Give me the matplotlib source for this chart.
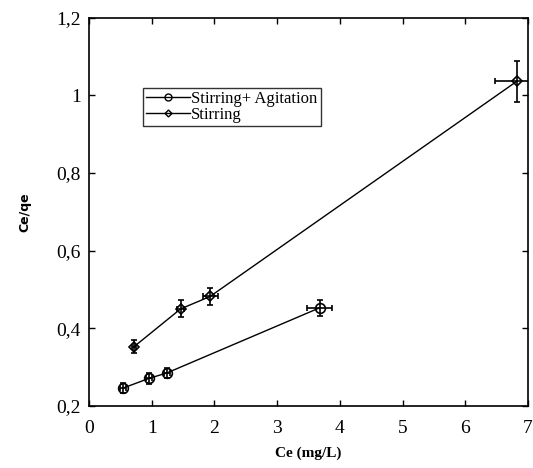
import matplotlib
matplotlib.use("Agg")
import matplotlib.pyplot as plt
from matplotlib.lines import Line2D

# Data
ag_x = [0.54, 0.955, 1.24, 3.68]
ag_y = [0.246, 0.271, 0.285, 0.453]
ag_xerr = [0.05, 0.05, 0.05, 0.2]
ag_yerr = [0.012, 0.015, 0.014, 0.02]

st_x = [0.72, 1.46, 1.93, 6.82]
st_y = [0.353, 0.45, 0.482, 1.036]
st_xerr = [0.03, 0.06, 0.12, 0.35]
st_yerr = [0.017, 0.022, 0.022, 0.052]

xticks = [0, 1, 2, 3, 4, 5, 6, 7]
yticks = [0.2, 0.4, 0.6, 0.8, 1.0, 1.2]
ytick_labels = ["0,2", "0,4", "0,6", "0,8", "1", "1,2"]
labels = ["Stirring+ Agitation", "Stirring"]

fig = plt.figure(figsize=(5.33, 4.68), dpi=100)
ax = fig.add_axes([89/533, 1-406/468, (528-89)/533, (406-17.7)/468])

serif = ["Liberation Serif", "DejaVu Serif"]

ax.errorbar(ag_x, ag_y, xerr=ag_xerr, yerr=ag_yerr, color="black", lw=1,
            marker="o", ms=7, mfc="none", mec="black", mew=1.2,
            ecolor="black", elinewidth=1.2, capsize=2.5, capthick=1.2)
ax.errorbar(st_x, st_y, xerr=st_xerr, yerr=st_yerr, color="black", lw=1,
            marker="D", ms=5, mfc="none", mec="black", mew=1.2,
            ecolor="black", elinewidth=1.2, capsize=2.5, capthick=1.2)

ax.set_xlim(0, 7)
ax.set_ylim(0.2, 1.2)
ax.set_xticks(xticks)
ax.set_xticklabels([str(t) for t in xticks], fontfamily=serif, fontsize=14)
ax.set_yticks(yticks)
ax.set_yticklabels(ytick_labels, fontfamily=serif, fontsize=14)
ax.tick_params(axis="x", direction="in", length=4, width=1, top=True, pad=10)
ax.tick_params(axis="y", direction="in", length=4, width=1, right=True, pad=6)
for s in ax.spines.values():
    s.set_linewidth(1.2)

ax.set_xlabel("Ce (mg/L)", fontfamily=serif, fontweight="bold", fontsize=11, labelpad=7)
ax.set_ylabel("Ce/qe", fontfamily=["DejaVu Sans"], fontweight="bold", fontsize=9, labelpad=18)

handles = [
    Line2D([], [], color="black", lw=1, marker="o", ms=5, mfc="none", mec="black", mew=1),
    Line2D([], [], color="black", lw=1, marker="D", ms=3.5, mfc="none", mec="black", mew=1),
]
leg = ax.legend(handles, labels, loc="upper left", bbox_to_anchor=(0.123, 0.82),
                prop={"family": serif, "size": 12},
                frameon=True, fancybox=False, edgecolor="black", handlelength=2.6,
                borderpad=0.2, labelspacing=0.0, handletextpad=0.1, borderaxespad=0)
leg.get_frame().set_linewidth(1.0)

fig.savefig("out.png", dpi=100)
